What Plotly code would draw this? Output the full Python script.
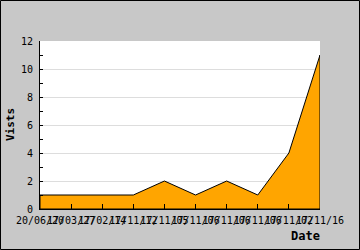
import plotly.graph_objects as go

dates = ["20/06/20", "17/03/27", "17/02/14", "17/11/12", "17/11/05",
         "17/11/06", "17/11/06", "17/11/06", "17/11/02", "17/11/16"]
visits = [1, 1, 1, 1, 2, 1, 2, 1, 4, 11]
y_ticks = [0, 2, 4, 6, 8, 10, 12]

idx = list(range(len(dates)))
# closed polygon: data points then down to the baseline
px = idx + [idx[-1], idx[0], idx[0]]
py = visits + [0, 0, visits[0]]

W, H = 360, 250
L, R, T, B = 40, 40, 41, 41
pw, ph = W - L - R, H - T - B

fig = go.Figure()
fig.add_trace(go.Scatter(x=px, y=py, mode="lines", fill="toself",
                         fillcolor="#FFA500",
                         line=dict(color="#000000", width=1),
                         hoverinfo="skip", showlegend=False))

mono = "DejaVu Sans Mono"
fig.update_layout(
    width=W, height=H,
    margin=dict(l=L, r=R, t=T, b=B, pad=0),
    paper_bgcolor="#C8C8C8", plot_bgcolor="#FFFFFF",
    font=dict(family=mono, size=10, color="#000000"),
    showlegend=False,
    xaxis=dict(range=[idx[0], idx[-1]], tickmode="array", tickvals=idx,
               ticktext=dates, ticks="inside", ticklen=5, tickcolor="#000",
               showgrid=False, zeroline=False, showline=True,
               linecolor="#000", linewidth=1, tickangle=0,
               tickfont=dict(family=mono, size=10),
               ticklabelstandoff=2),
    yaxis=dict(range=[0, 12], tickmode="array", tickvals=y_ticks,
               ticks="inside", ticklen=3, tickcolor="#000",
               minor=dict(dtick=1, ticks="inside", ticklen=3,
                          tickcolor="#000", showgrid=False),
               showgrid=True, gridcolor="#DDDDDD", gridwidth=1,
               zeroline=False, showline=True, linecolor="#000",
               linewidth=1, tickfont=dict(family=mono, size=10),
               ticklabelstandoff=4),
    annotations=[
        dict(text="<b>Vists</b>", xref="paper", yref="paper",
             x=(10 - L) / pw, y=(H - B - 125) / ph, textangle=-90,
             showarrow=False, xanchor="center", yanchor="middle",
             font=dict(family=mono, size=11)),
        dict(text="<b>Date</b>", xref="paper", yref="paper",
             x=(305 - L) / pw, y=(H - B - 236) / ph,
             showarrow=False, xanchor="center", yanchor="middle",
             font=dict(family=mono, size=12)),
    ],
    shapes=[dict(type="rect", xref="paper", yref="paper",
                 x0=(0.5 - L) / pw, x1=(W - 0.5 - L) / pw,
                 y0=(H - B - (H - 0.5)) / ph, y1=(H - B - 0.5) / ph,
                 line=dict(color="#000", width=1), layer="below")],
)

fig.write_html("out.html")
